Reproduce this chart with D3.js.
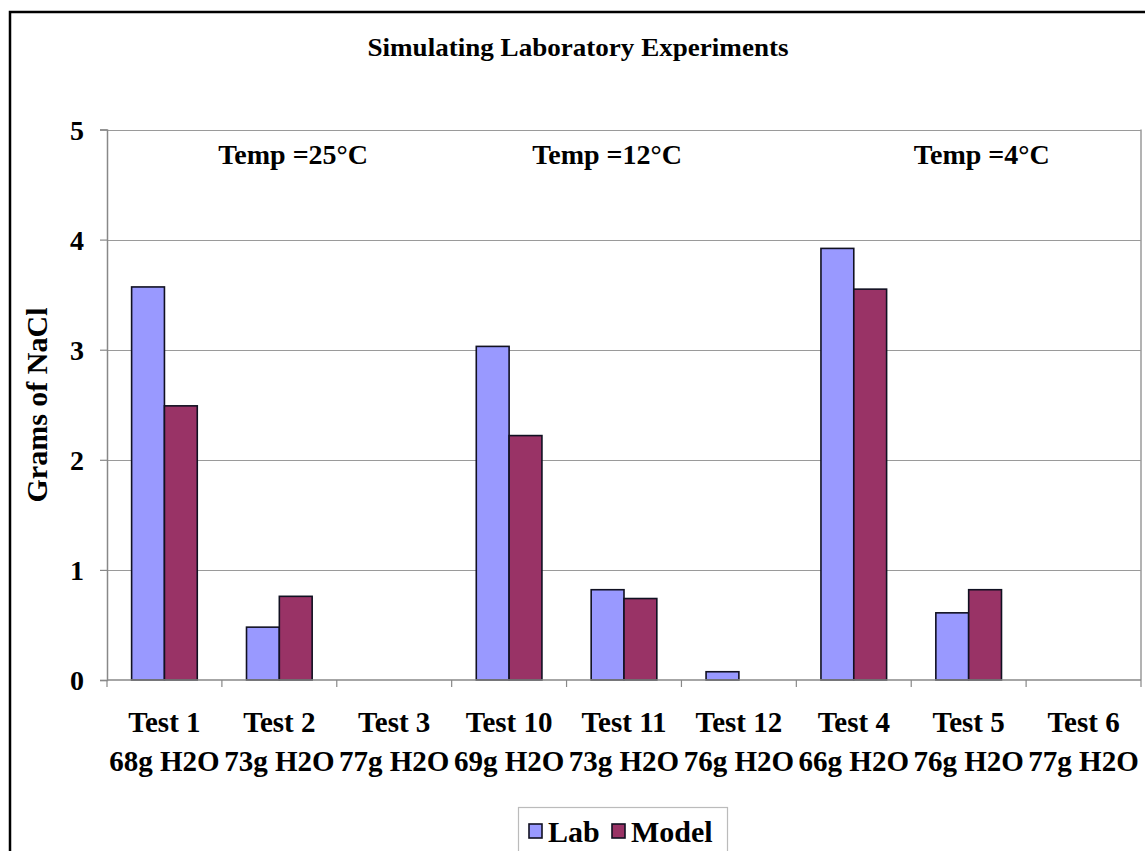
<!DOCTYPE html>
<html>
<head>
<meta charset="utf-8">
<script src="https://cdn.jsdelivr.net/npm/d3@7"></script>
<style>
  html, body { margin: 0; padding: 0; background: #fff; }
  svg { display: block; }
  text { font-family: "Liberation Serif", "Times New Roman", Times, serif; font-weight: bold; fill: #000; }
</style>
</head>
<body>
<svg id="chart" width="1145" height="851"></svg>
<script>
// Grams of NaCl recovered per test, lab measurement vs. model prediction
const categories = ["Test 1", "Test 2", "Test 3", "Test 10", "Test 11", "Test 12", "Test 4", "Test 5", "Test 6"];
const waterMass  = ["68g H2O", "73g H2O", "77g H2O", "69g H2O", "73g H2O", "76g H2O", "66g H2O", "76g H2O", "77g H2O"];
const labValues   = [3.57, 0.48, 0, 3.03, 0.82, 0.075, 3.92, 0.61, 0];
const modelValues = [2.49, 0.76, 0, 2.22, 0.74, 0, 3.55, 0.82, 0];
const seriesNames = ["Lab", "Model"];
const seriesColors = ["#9999FF", "#993366"];
const yTicks = [0, 1, 2, 3, 4, 5];
const tempLabels = ["Temp =25°C", "Temp =12°C", "Temp =4°C"];

const svg = d3.select("#chart");

// plot area
const plotLeft = 107, plotRight = 1141, plotTop = 129.5, plotBottom = 680;

const x = d3.scaleBand().domain(categories).range([plotLeft, plotRight]).paddingInner(0).paddingOuter(0);
const xs = d3.scaleBand().domain(seriesNames).range([0, x.bandwidth()]).paddingInner(0).paddingOuter(0.75);
const y = d3.scaleLinear().domain([0, 5]).range([plotBottom, plotTop]);

// outer chart frame
svg.append("rect")
  .attr("x", 10).attr("y", 12).attr("width", 1160).attr("height", 860)
  .attr("fill", "none").attr("stroke", "#000").attr("stroke-width", 2.5);

// title
svg.append("text")
  .attr("x", 578).attr("y", 56)
  .attr("text-anchor", "middle")
  .attr("font-size", 26)
  .attr("textLength", 421).attr("lengthAdjust", "spacingAndGlyphs")
  .text("Simulating Laboratory Experiments");

// horizontal gridlines
svg.append("g").selectAll("line")
  .data(yTicks.filter(d => d > 0))
  .join("line")
  .attr("x1", plotLeft).attr("x2", plotRight)
  .attr("y1", d => Math.round(y(d)) + 0.5).attr("y2", d => Math.round(y(d)) + 0.5)
  .attr("stroke", "#9a9a9a").attr("stroke-width", 1.2);

// right edge of plot area
svg.append("line")
  .attr("x1", plotRight).attr("x2", plotRight).attr("y1", plotTop).attr("y2", plotBottom)
  .attr("stroke", "#9a9a9a").attr("stroke-width", 1.5);

// y axis
const yAxis = d3.axisLeft(y).tickValues(yTicks).tickFormat(d3.format("d")).tickSize(7).tickPadding(16);
const gy = svg.append("g").attr("transform", `translate(${plotLeft},0)`).call(yAxis);
gy.attr("font-family", null).attr("font-size", null);
gy.select(".domain").attr("stroke", "#888").attr("stroke-width", 1.5);
gy.selectAll(".tick line").attr("stroke", "#888").attr("stroke-width", 1.2);
gy.selectAll(".tick text").attr("font-size", 28).attr("dy", "0.34em");

// y axis title
svg.append("text")
  .attr("transform", "translate(47,405) rotate(-90)")
  .attr("text-anchor", "middle")
  .attr("font-size", 30)
  .text("Grams of NaCl");

// bars
const rows = categories.map((c, i) => ({ cat: c, vals: [labValues[i], modelValues[i]] }));
const groups = svg.append("g").selectAll("g")
  .data(rows)
  .join("g")
  .attr("transform", d => `translate(${x(d.cat)},0)`);
groups.selectAll("rect")
  .data(d => d.vals.map((v, j) => ({ series: seriesNames[j], v, color: seriesColors[j] })).filter(e => e.v > 0))
  .join("rect")
  .attr("x", d => xs(d.series))
  .attr("width", xs.bandwidth())
  .attr("y", d => y(d.v))
  .attr("height", d => y(0) - y(d.v))
  .attr("fill", d => d.color)
  .attr("stroke", "#111122").attr("stroke-width", 1.6);

// x axis: baseline and ticks at category boundaries
svg.append("line")
  .attr("x1", plotLeft).attr("x2", plotRight).attr("y1", plotBottom).attr("y2", plotBottom)
  .attr("stroke", "#888").attr("stroke-width", 1.5);
svg.append("g").selectAll("line")
  .data(categories.concat(["end"]))
  .join("line")
  .attr("x1", (d, i) => i < categories.length ? x(d) : plotRight)
  .attr("x2", (d, i) => i < categories.length ? x(d) : plotRight)
  .attr("y1", plotBottom).attr("y2", plotBottom + 7)
  .attr("stroke", "#888").attr("stroke-width", 1.2);

// category labels (two lines)
const xl = svg.append("g").selectAll("text")
  .data(categories)
  .join("text")
  .attr("text-anchor", "middle")
  .attr("font-size", 29);
xl.append("tspan")
  .attr("x", d => x(d) + x.bandwidth() / 2).attr("y", 732)
  .text(d => d);
xl.append("tspan")
  .attr("x", d => x(d) + x.bandwidth() / 2).attr("y", 771)
  .text((d, i) => waterMass[i]);

// temperature annotations
const tempPos = [0.18, 0.4836, 0.846];
svg.append("g").selectAll("text")
  .data(tempLabels)
  .join("text")
  .attr("x", (d, i) => plotLeft + tempPos[i] * (plotRight - plotLeft))
  .attr("y", y(4.69))
  .attr("text-anchor", "middle")
  .attr("font-size", 28)
  .text(d => d);

// legend
const legend = svg.append("g");
legend.append("rect")
  .attr("x", 518.5).attr("y", 807.5).attr("width", 209).attr("height", 70)
  .attr("fill", "#fff").attr("stroke", "#bbb").attr("stroke-width", 1.2);
const legendX = [529, 612];
seriesNames.forEach((name, i) => {
  legend.append("rect")
    .attr("x", legendX[i]).attr("y", 824).attr("width", 13).attr("height", 14)
    .attr("fill", seriesColors[i]).attr("stroke", "#111122").attr("stroke-width", 1.6);
  legend.append("text")
    .attr("x", legendX[i] + 19).attr("y", 842)
    .attr("font-size", 30)
    .text(name);
});
</script>
</body>
</html>
